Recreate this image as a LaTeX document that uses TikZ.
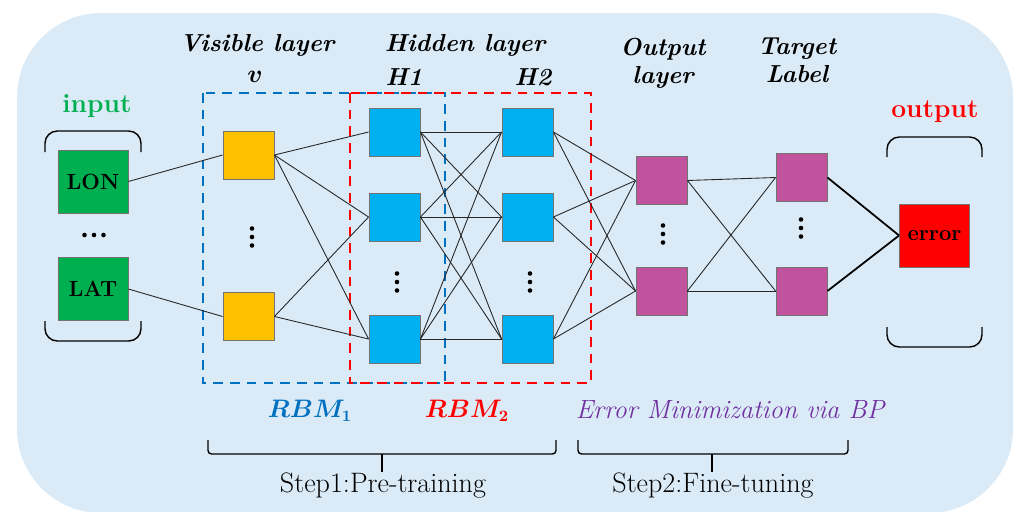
\documentclass[tikz,border=0pt]{standalone}
\usepackage{tikz}
\usepackage{amsmath}
\usetikzlibrary{calc}
\definecolor{bgblue}{RGB}{218,235,247}
\definecolor{ingreen}{RGB}{0,176,80}
\definecolor{visyellow}{RGB}{255,192,0}
\definecolor{hidblue}{RGB}{0,176,240}
\definecolor{outpurple}{RGB}{193,82,157}
\definecolor{rbmblue}{RGB}{0,112,192}
\definecolor{bppurple}{RGB}{112,48,160}
\def\vdotsat(#1,#2){\fill (#1,#2-8.5) circle (1.3pt) (#1,#2) circle (1.3pt) (#1,#2+8.5) circle (1.3pt);}
\def\hdotsat(#1,#2){\fill (#1-9.5,#2) circle (1.3pt) (#1,#2) circle (1.3pt) (#1+9.5,#2) circle (1.3pt);}
\tikzset{
	unit/.style={draw=black!55, line width=0.5pt, minimum width=1.02cm, minimum height=0.96cm, inner sep=0pt},
	bigunit/.style={draw=black!55, line width=0.5pt, minimum width=1.4cm, minimum height=1.26cm, inner sep=0pt, font=\fontsize{12.5}{14}\selectfont\bfseries},
	wire/.style={line width=0.5pt, black!85},
	cup/.style={line width=0.8pt, rounded corners=7pt},
	title/.style={font=\fontsize{14}{16}\selectfont\bfseries\itshape, align=center, inner sep=1pt}
}

\begin{document}
\begin{tikzpicture}[x=0.02cm, y=-0.02cm]
	%%%%% START %%%%%
	\useasboundingbox (0,0) rectangle (1015,511);
	\fill[bgblue, rounded corners=48pt] (17,13) rectangle (1013,513);
	
	% dashed RBM boxes
	\draw[rbmblue, line width=1.1pt, dash pattern=on 5.5pt off 4pt] (203,93) rectangle (445,383);
	\draw[red, line width=1.1pt, dash pattern=on 5.5pt off 4pt] (350,93) rectangle (591,383);
	
	% input
	\node[text=ingreen, font=\fontsize{15}{18}\selectfont\bfseries] (input) at (97,106) {input};
	\draw[cup] (45,152) -- (45,131) -- (141,131) -- (141,152);
	\node[bigunit, fill=ingreen] (lon) at (93,181.5) {LON};
	\hdotsat(94,235)
	\node[bigunit, fill=ingreen] (lat) at (93,289) {LAT};
	\draw[cup] (45,321) -- (45,341) -- (141,341) -- (141,321);
	
	% visible layer
	\node[title] (vistitle) at (257,45) {Visible layer};
	\node[title] (vname) at (255,77) {$\boldsymbol{v}$};
	\node[unit, fill=visyellow] (v1) at (248.5,155) {};
	\vdotsat(252,237)
	\node[unit, fill=visyellow] (v2) at (248.5,316.5) {};
	
	% hidden layers
	\node[title] (hidtitle) at (465,45) {Hidden layer};
	\node[title] (h1name) at (404,77) {H1};
	\node[title] (h2name) at (533,77) {H2};
	\node[unit, fill=hidblue] (h11) at (394.5,132) {};
	\node[unit, fill=hidblue] (h12) at (394.5,217) {};
	\vdotsat(397,282)
	\node[unit, fill=hidblue] (h13) at (394.5,339) {};
	\node[unit, fill=hidblue] (h21) at (527.5,132) {};
	\node[unit, fill=hidblue] (h22) at (527.5,217) {};
	\vdotsat(530,282)
	\node[unit, fill=hidblue] (h23) at (527.5,339) {};
	
	% output layer and target label
	\node[title] (outtitle) at (663,63) {Output\\layer};
	\node[unit, fill=outpurple] (o1) at (661.5,180.5) {};
	\vdotsat(663,234)
	\node[unit, fill=outpurple] (o2) at (661.5,291) {};
	\node[title] (tartitle) at (797,60) {Target\\Label};
	\node[unit, fill=outpurple] (t1) at (801.5,177.5) {};
	\vdotsat(801,228)
	\node[unit, fill=outpurple] (t2) at (801.5,291) {};
	
	% output
	\node[text=red, font=\fontsize{15}{18}\selectfont\bfseries] (output) at (935,112) {output};
	\draw[cup] (887,157) -- (887,137) -- (982,137) -- (982,157);
	\node[bigunit, fill=red] (err) at (934.5,235.5) {error};
	\draw[cup] (887,327) -- (887,347) -- (982,347) -- (982,327);
	
	% connections
	\draw[wire] (lon.east) -- (v1.west);
	\draw[wire] (lat.east) -- (v2.west);
	
	\draw[wire] (v1.east) -- (h11.west);
	\draw[wire] (v1.east) -- (h12.west);
	\draw[wire] (v1.east) -- (h13.west);
	\draw[wire] (v2.east) -- (h12.west);
	\draw[wire] (v2.east) -- (h13.west);
	
	\draw[wire] (h11.east) -- (h21.west);
	\draw[wire] (h11.east) -- (h22.west);
	\draw[wire] (h11.east) -- (h23.west);
	\draw[wire] (h12.east) -- (h21.west);
	\draw[wire] (h12.east) -- (h22.west);
	\draw[wire] (h12.east) -- (h23.west);
	\draw[wire] (h13.east) -- (h21.west);
	\draw[wire] (h13.east) -- (h22.west);
	\draw[wire] (h13.east) -- (h23.west);
	
	\draw[wire] (h21.east) -- (o1.west);
	\draw[wire] (h21.east) -- (o2.west);
	\draw[wire] (h22.east) -- (o1.west);
	\draw[wire] (h22.east) -- (o2.west);
	\draw[wire] (h23.east) -- (o1.west);
	\draw[wire] (h23.east) -- (o2.west);
	
	\draw[wire] (o1.east) -- (t1.west);
	\draw[wire] (o1.east) -- (t2.west);
	\draw[wire] (o2.east) -- (t1.west);
	\draw[wire] (o2.east) -- (t2.west);
	
	\draw[line width=1pt] (t1.east) -- (err.west);
	\draw[line width=1pt] (t2.east) -- (err.west);
	
	% bottom labels
	\node[text=rbmblue, font=\fontsize{13.5}{16}\selectfont] (rbm1) at (310,411) {$\boldsymbol{RBM_{1}}$};
	\node[text=red, font=\fontsize{13.5}{16}\selectfont] (rbm2) at (467,411) {$\boldsymbol{RBM_{2}}$};
	\node[text=bppurple, font=\fontsize{15}{18}\selectfont\itshape] (bp) at (730,410) {Error Minimization via BP};
	
	\draw[line width=0.8pt, rounded corners=2pt] (208,440) -- (208,454) -- (556,454) -- (556,440);
	\draw[line width=0.8pt] (382,454) -- (382,472);
	\draw[line width=0.8pt, rounded corners=2pt] (578,440) -- (578,454) -- (848,454) -- (848,440);
	\draw[line width=0.8pt] (712,454) -- (712,472);
	\node[font=\fontsize{16}{18}\selectfont] (step1) at (383,486) {Step1:Pre-training};
	\node[font=\fontsize{16}{18}\selectfont] (step2) at (713,486) {Step2:Fine-tuning};
	
	%%%%% END %%%%%
\end{tikzpicture}
\end{document}
